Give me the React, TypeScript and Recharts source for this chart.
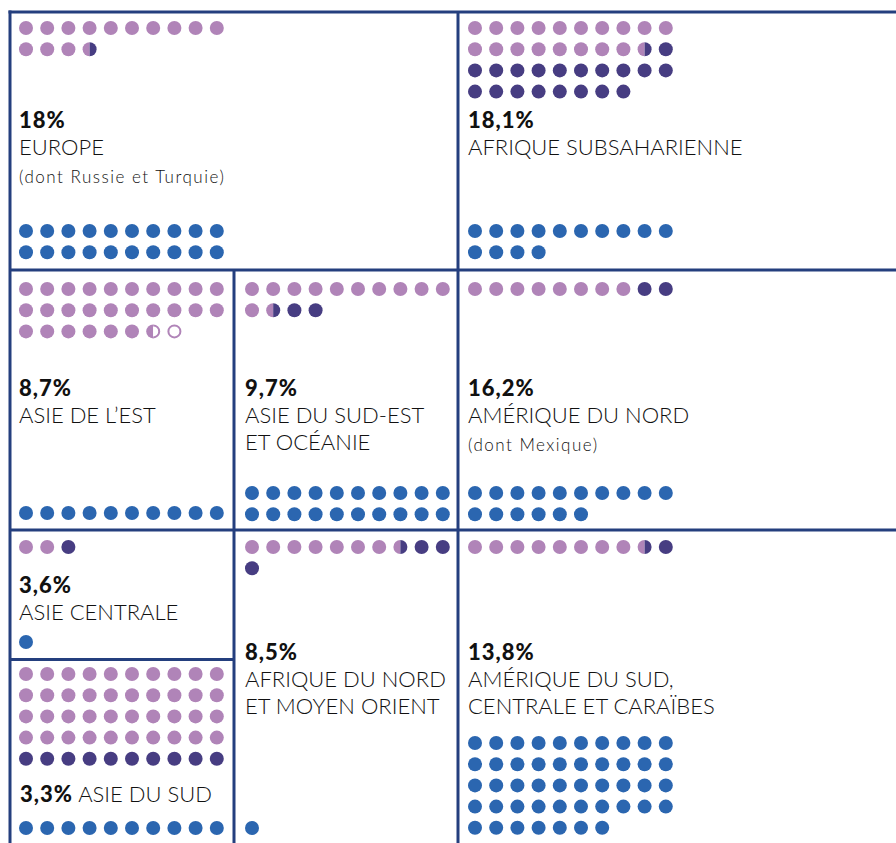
import React from "react";
import { ScatterChart, Scatter, XAxis, YAxis, ReferenceLine } from "recharts";

// share of each region and its label
const regions = [
  "Europe",
  "Afrique subsaharienne",
  "Asie de l'Est",
  "Asie du Sud-Est et Océanie",
  "Amérique du Nord",
  "Asie centrale",
  "Asie du Sud",
  "Afrique du Nord et Moyen Orient",
  "Amérique du Sud, centrale et Caraïbes",
];
const shares = ["18%", "18,1%", "8,7%", "9,7%", "16,2%", "3,6%", "3,3%", "8,5%", "13,8%"];
const labelLines = [
  ["EUROPE"],
  ["AFRIQUE SUBSAHARIENNE"],
  ["ASIE DE L\u2019EST"],
  ["ASIE DU SUD-EST", "ET OCÉANIE"],
  ["AMÉRIQUE DU NORD"],
  ["ASIE CENTRALE"],
  ["ASIE DU SUD"],
  ["AFRIQUE DU NORD", "ET MOYEN ORIENT"],
  ["AMÉRIQUE DU SUD,", "CENTRALE ET CARAÏBES"],
];
const notes = ["(dont Russie et Turquie)", "", "", "", "(dont Mexique)", "", "", "", ""];

// dot counts per region
const lightDots = [13, 18, 26, 11, 8, 2, 40, 7, 8];
const halfDots = ["lightDark", "lightDark", "lightOutline", "lightDark", "", "", "", "lightDark", "lightDark"];
const darkDots = [0, 19, 0, 2, 2, 1, 10, 3, 1];
const outlineDots = [0, 0, 1, 0, 0, 0, 0, 0, 0];
const blueDots = [20, 14, 10, 20, 16, 1, 10, 1, 47];

const W = 896;
const H = 843;
const PITCH = 21.2;
const R = 7;
const PER_ROW = 10;

const COLORS = {
  light: "#b084b8",
  dark: "#473d82",
  blue: "#2b66b0",
  border: "#243f7e",
  text: "#111111",
};

// where each region box puts its dots and text
const layout = [
  { dotX: 26, topY: 28, blueY: 231, textX: 19, shareY: 128 },
  { dotX: 475, topY: 28, blueY: 231, textX: 468, shareY: 128 },
  { dotX: 26, topY: 289, blueY: 513, textX: 19, shareY: 396 },
  { dotX: 252, topY: 289, blueY: 493, textX: 245, shareY: 396 },
  { dotX: 475, topY: 289, blueY: 493, textX: 468, shareY: 396 },
  { dotX: 26, topY: 547, blueY: 642, textX: 19, shareY: 593 },
  { dotX: 26, topY: 674, blueY: 828, textX: 20, shareY: 802, inline: true },
  { dotX: 252, topY: 547, blueY: 828, textX: 245, shareY: 660 },
  { dotX: 475, topY: 547, blueY: 743, textX: 468, shareY: 660 },
];

const borders = [
  [8.5, 12, W, 12],
  [10, 10.5, 10, H],
  [458, 12, 458, H],
  [10, 270, W, 270],
  [10, 530, W, 530],
  [234, 270, 234, H],
  [10, 659.5, 234, 659.5],
];

type Pt = { x: number; y: number };
const points: Record<string, Pt[]> = {
  light: [],
  dark: [],
  outline: [],
  lightDark: [],
  lightOutline: [],
  blue: [],
};

regions.forEach((_, r) => {
  const l = layout[r];
  const seq: string[] = [
    ...Array(lightDots[r]).fill("light"),
    ...(halfDots[r] ? [halfDots[r]] : []),
    ...Array(darkDots[r]).fill("dark"),
    ...Array(outlineDots[r]).fill("outline"),
  ];
  seq.forEach((kind, i) => {
    points[kind].push({
      x: l.dotX + (i % PER_ROW) * PITCH,
      y: l.topY + Math.floor(i / PER_ROW) * PITCH,
    });
  });
  for (let i = 0; i < blueDots[r]; i++) {
    points.blue.push({
      x: l.dotX + (i % PER_ROW) * PITCH,
      y: l.blueY + Math.floor(i / PER_ROW) * PITCH,
    });
  }
});

const dot = (fill: string) => (p: any) => <circle cx={p.cx} cy={p.cy} r={R} fill={fill} />;

const ringDot = (p: any) => (
  <circle cx={p.cx} cy={p.cy} r={R - 1} fill="#fff" stroke={COLORS.light} strokeWidth={2} />
);

const halfDot = (rightFill: string, ring: boolean) => (p: any) => {
  const { cx, cy } = p;
  return (
    <g>
      <path d={`M${cx},${cy - R} A${R},${R} 0 0 0 ${cx},${cy + R} Z`} fill={COLORS.light} />
      {ring ? (
        <path
          d={`M${cx},${cy - R + 1} A${R - 1},${R - 1} 0 0 1 ${cx},${cy + R - 1}`}
          fill="#fff"
          stroke={COLORS.light}
          strokeWidth={2}
        />
      ) : (
        <path d={`M${cx},${cy - R} A${R},${R} 0 0 1 ${cx},${cy + R} Z`} fill={rightFill} />
      )}
    </g>
  );
};

const FONT = "Lato, 'Noto Sans', sans-serif";
const LABEL = { fontSize: 22, fontWeight: 300 };
const SHARE = { fontSize: 22, fontWeight: 900, letterSpacing: 1 };
const NOTE = { fontSize: 17, fontWeight: 300, letterSpacing: 1.5 };

function Texts() {
  return (
    <svg width={W} height={H} style={{ position: "absolute", left: 0, top: 0 }}>
      {regions.map((name, r) => {
        const l = layout[r];
        if (l.inline) {
          return (
            <text key={name} x={l.textX} y={l.shareY} fontFamily={FONT} fill={COLORS.text}>
              <tspan style={SHARE}>{shares[r]}</tspan>
              <tspan style={LABEL}> {labelLines[r][0]}</tspan>
            </text>
          );
        }
        const lines = labelLines[r];
        return (
          <g key={name} fontFamily={FONT} fill={COLORS.text}>
            <text x={l.textX} y={l.shareY} style={SHARE}>
              {shares[r]}
            </text>
            {lines.map((line, i) => (
              <text key={line} x={l.textX} y={l.shareY + 27 + i * 26.5} style={LABEL}>
                {line}
              </text>
            ))}
            {notes[r] && (
              <text x={l.textX} y={l.shareY + 28 + lines.length * 26.5} style={NOTE}>
                {notes[r]}
              </text>
            )}
          </g>
        );
      })}
    </svg>
  );
}

export default function App() {
  return (
    <div style={{ position: "absolute", left: 0, top: 0, width: W, height: H, background: "#fff" }}>
      <ScatterChart width={W} height={H} margin={{ top: 0, right: 0, bottom: 0, left: 0 }}>
        <XAxis type="number" dataKey="x" domain={[0, W]} allowDataOverflow hide />
        <YAxis type="number" dataKey="y" domain={[0, H]} allowDataOverflow reversed hide />
        {borders.map(([x1, y1, x2, y2], i) => (
          <ReferenceLine
            key={i}
            segment={[
              { x: x1, y: y1 },
              { x: x2, y: y2 },
            ]}
            stroke={COLORS.border}
            strokeWidth={3}
            ifOverflow="visible"
          />
        ))}
        <Scatter data={points.light} shape={dot(COLORS.light)} isAnimationActive={false} />
        <Scatter data={points.dark} shape={dot(COLORS.dark)} isAnimationActive={false} />
        <Scatter data={points.outline} shape={ringDot} isAnimationActive={false} />
        <Scatter data={points.lightDark} shape={halfDot(COLORS.dark, false)} isAnimationActive={false} />
        <Scatter data={points.lightOutline} shape={halfDot(COLORS.light, true)} isAnimationActive={false} />
        <Scatter data={points.blue} shape={dot(COLORS.blue)} isAnimationActive={false} />
      </ScatterChart>
      <Texts />
    </div>
  );
}
